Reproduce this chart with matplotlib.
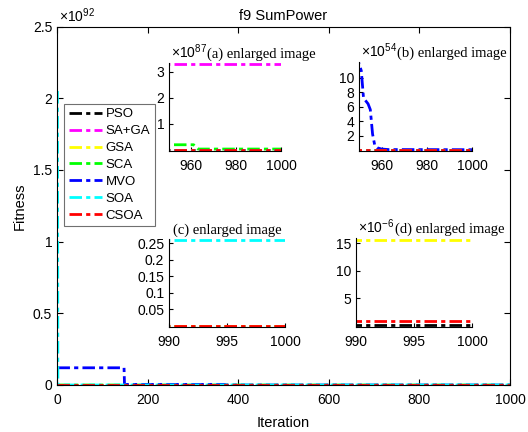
import numpy as np
import matplotlib
matplotlib.use('Agg')
import matplotlib.pyplot as plt

plt.rcParams['font.family'] = ['Liberation Sans', 'DejaVu Sans']
plt.rcParams['mathtext.fontset'] = 'custom'
plt.rcParams['mathtext.rm'] = 'Liberation Sans'
plt.rcParams['mathtext.it'] = 'Liberation Sans:italic'

names = ['PSO', 'SA+GA', 'GSA', 'SCA', 'MVO', 'SOA', 'CSOA']
colors = ['#000000', '#ff00ff', '#ffff00', '#00ff00', '#0000ff', '#00ffff', '#ff0000']

# best fitness per iteration, given as breakpoints (iteration, value)
pso_it = [1, 1000]
pso_val = [2.0e-7, 2.0e-7]
saga_it = [1, 1000]
saga_val = [3.3e87, 3.3e87]
gsa_it = [1, 1000]
gsa_val = [1.57e-5, 1.57e-5]
sca_it = [1, 961, 963, 1000]
sca_val = [2.0e86, 2.0e86, 3.5e85, 3.5e85]
mvo_it = [1, 148, 149, 370, 371, 949, 950, 951, 952, 953, 954, 955, 956, 957, 958, 960, 963, 1000]
mvo_val = [1.2e91, 1.2e91, 4e89, 4e89, 1.25e55, 1.25e55, 1.2e55, 1.1e55, 7.2e54, 6.8e54,
           6.4e54, 5.6e54, 2.2e54, 6e53, 3e53, 1.2e53, 5e52, 3e52]
soa_it = [1, 2, 1000]
soa_val = [2.05e92, 0.26, 0.26]
csoa_it = [1, 1000]
csoa_val = [9e-7, 9e-7]

curves = [(pso_it, pso_val), (saga_it, saga_val), (gsa_it, gsa_val), (sca_it, sca_val),
          (mvo_it, mvo_val), (soa_it, soa_val), (csoa_it, csoa_val)]

dash = (0, (4.5, 1.5, 1.5, 1.5))


def draw(ax, scale, lw=2):
    for (it, val), c, n in zip(curves, colors, names):
        ax.plot(it, np.array(val) / scale, color=c, lw=lw, ls=dash, label=n)


fig = plt.figure(figsize=(5.28, 4.32), dpi=100)
ax = fig.add_axes([57 / 528, 1 - 385 / 432, 453 / 528, 358.5 / 432])
draw(ax, 1e92)
ax.set_xlim(0, 1000)
ax.set_ylim(0, 2.5)
ax.set_xticks([0, 200, 400, 600, 800, 1000])
ax.set_yticks([0, 0.5, 1, 1.5, 2, 2.5])
ax.set_yticklabels(['0', '0.5', '1', '1.5', '2', '2.5'])
ax.tick_params(direction='in', top=True, right=True, length=4, labelsize=10)
ax.tick_params(axis='x', pad=6)
ax.set_xlabel('Iteration', fontsize=10.5, labelpad=6)
ax.set_ylabel('Fitness', fontsize=10.5)
ax.set_title('f9 SumPower', fontsize=10.5, pad=5)
ax.text(0.005, 1.005, '×10$^{92}$', transform=ax.transAxes, ha='left', va='bottom', fontsize=10)
leg = ax.legend(loc='upper left', bbox_to_anchor=(0.016, 0.785), fontsize=9.5, handlelength=2.5,
                labelspacing=0.35, borderpad=0.35, handletextpad=0.3, fancybox=False,
                framealpha=1, edgecolor='#707070', borderaxespad=0)
leg.get_frame().set_linewidth(0.8)

insets = [
    # rect, xlim, ylim, scale, xticks, yticks, exponent, title
    ([169, 281, 63, 151], (950, 1000), (-0.04, 3.34), 1e87, [960, 980, 1000], [1, 2, 3], '87', '(a) enlarged image'),
    ([359, 472, 62, 151], (950, 1000), (-0.15, 12.2), 1e54, [960, 980, 1000], [2, 4, 6, 8, 10], '54', '(b) enlarged image'),
    ([169, 285, 239, 327], (990, 1000), (-0.003, 0.263), 1.0, [990, 995, 1000], [0.05, 0.1, 0.15, 0.2, 0.25], None, '(c) enlarged image'),
    ([356, 472, 238, 327], (990, 1000), (-0.2, 16.0), 1e-6, [990, 995, 1000], [5, 10, 15], '-6', '(d) enlarged image'),
]

for (l, r, t, b), xl, yl, sc, xt, yt, ex, ttl in insets:
    ia = fig.add_axes([l / 528, 1 - b / 432, (r - l) / 528, (b - t) / 432])
    draw(ia, sc)
    ia.set_xlim(*xl)
    ia.set_ylim(*yl)
    ia.set_xticks(xt)
    ia.set_yticks(yt)
    ia.set_yticklabels(['%g' % v for v in yt])
    ia.spines['top'].set_visible(False)
    ia.spines['right'].set_visible(False)
    ia.tick_params(direction='in', length=3, labelsize=10)
    ia.tick_params(axis='x', pad=6)
    if ex is None:
        ia.text(0.5, 1.02, ttl, transform=ia.transAxes, ha='center', va='bottom',
                family='Liberation Serif', fontsize=10.5)
    else:
        t1 = ia.text(0.02, 1.02, '×10$^{%s}$' % ex, transform=ia.transAxes, ha='left',
                     va='bottom', fontsize=10)
        ia.annotate(ttl, xy=(1, 0), xycoords=t1, ha='left', va='bottom',
                    family='Liberation Serif', fontsize=10.5)

fig.savefig('out.png', dpi=100)
